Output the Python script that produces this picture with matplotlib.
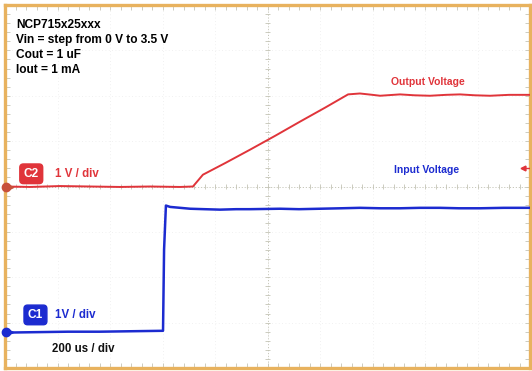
import numpy as np
import matplotlib.pyplot as plt

# scope settings
time_per_div = 200.0   # us / div
volt_per_div = 1.0     # V / div
c2_offset = 4.0        # divisions from bottom
c1_offset = 0.8

# C2 = output voltage (time in us, volts)
out_t = [0, 95, 210, 324, 438, 552, 667, 716, 754, 840, 933, 1030, 1124, 1220, 1307,
         1352, 1400, 1429, 1505, 1560, 1619, 1680, 1733, 1790, 1848, 1920, 2000]
out_v = [0.0, -0.01, 0.01, 0.0, -0.01, 0.0, -0.01, 0.0, 0.26, 0.52, 0.81, 1.12, 1.43,
         1.74, 2.03, 2.05, 2.02, 2.0, 2.03, 2.01, 2.0, 2.02, 2.03, 2.01, 2.0, 2.02, 2.02]

# C1 = input voltage
in_t = [0, 120, 240, 360, 480, 602, 606, 613, 629, 705, 760, 819, 880, 933, 1048,
        1120, 1200, 1280, 1352, 1430, 1505, 1580, 1657, 1730, 1810, 1900, 2000]
in_v = [-0.02, -0.01, 0.0, 0.0, 0.01, 0.02, 1.81, 2.78, 2.75, 2.71, 2.70, 2.69, 2.70,
        2.70, 2.71, 2.70, 2.71, 2.72, 2.73, 2.72, 2.72, 2.73, 2.73, 2.72, 2.72, 2.73, 2.73]

header = ["NCP715x25xxx", "Vin = step from 0 V to 3.5 V", "Cout = 1 uF", "Iout = 1 mA"]

red = '#e0343a'
blue = '#1c2bd0'
frame_col = '#e8b25e'
grid_col = '#c4c4b6'

fig = plt.figure(figsize=(5.32, 3.71), dpi=100)
ax = fig.add_axes([5 / 532, 3 / 371, 525 / 532, 363 / 371])
ax.set_xlim(0, 10)
ax.set_ylim(0, 8)
ax.set_xticks([])
ax.set_yticks([])
for s in ax.spines.values():
    s.set_color(frame_col)
    s.set_linewidth(2.4)

# faint division grid
for i in range(1, 10):
    ax.axvline(i, color='#ececec', lw=0.6, ls=(0, (1, 3)))
for j in range(1, 8):
    ax.axhline(j, color='#ececec', lw=0.6, ls=(0, (1, 3)))

# center crosshair with minor ticks
ax.axhline(4, color=grid_col, lw=0.7, ls=(0, (1, 2)))
ax.axvline(5, color=grid_col, lw=0.7, ls=(0, (1, 2)))
minor_x = np.arange(0, 10.01, 0.2)
minor_y = np.arange(0, 8.01, 0.2)
ax.vlines(minor_x, 4 - 0.05, 4 + 0.05, color=grid_col, lw=0.6)
ax.hlines(minor_y, 5 - 0.05, 5 + 0.05, color=grid_col, lw=0.6)
# border ticks
ax.vlines(minor_x, 0, 0.1, color=grid_col, lw=0.6)
ax.vlines(minor_x, 7.9, 8, color=grid_col, lw=0.6)
ax.hlines(minor_y, 0, 0.1, color=grid_col, lw=0.6)
ax.hlines(minor_y, 9.9, 10, color=grid_col, lw=0.6)

# traces
ox = np.array(out_t) / time_per_div
oy = c2_offset + np.array(out_v) / volt_per_div
ix = np.array(in_t) / time_per_div
iy = c1_offset + np.array(in_v) / volt_per_div
ax.plot(ox, oy, color=red, lw=1.4, zorder=5)
ax.plot(ix, iy, color=blue, lw=1.8, zorder=5)

# ground markers
ax.plot(0.02, c2_offset, 'o', color='#c8503a', ms=6, clip_on=False, zorder=6)
ax.plot(0.12, c2_offset, '>', color='#c8503a', ms=3, clip_on=False, zorder=6)
ax.plot(0.02, c1_offset, 'o', color=blue, ms=6, clip_on=False, zorder=6)
ax.plot(0.12, c1_offset, '>', color=blue, ms=3, clip_on=False, zorder=6)
# trigger level marker
ax.plot([9.86, 10], [4.41, 4.41], color=red, lw=1.0, zorder=6)
ax.plot(9.86, 4.41, '<', color=red, ms=3.5, zorder=6)

font = 'Liberation Sans'
for k, line in enumerate(header):
    ax.text(0.021, (368 - 25 - 15 * k) / 363, line, transform=ax.transAxes,
            fontsize=8.6, fontweight='bold', family=font, va='center', ha='left')

ax.text(0.5, c2_offset + 0.28, 'C2', color='white', fontsize=8.6, fontweight='bold',
        family=font, ha='center', va='center',
        bbox=dict(boxstyle='round,pad=0.32,rounding_size=0.3', fc=red, ec=red))
ax.text(0.95, c2_offset + 0.28, '1 V / div', color=red, fontsize=8.3, fontweight='bold',
        family=font, ha='left', va='center')
ax.text(0.58, c1_offset + 0.37, 'C1', color='white', fontsize=8.6, fontweight='bold',
        family=font, ha='center', va='center',
        bbox=dict(boxstyle='round,pad=0.32,rounding_size=0.3', fc=blue, ec=blue))
ax.text(0.95, c1_offset + 0.37, '1V / div', color=blue, fontsize=8.3, fontweight='bold',
        family=font, ha='left', va='center')
ax.text(0.9, (368 - 349) / 45.375, '200 us / div', color='#111111', fontsize=8.3,
        fontweight='bold', family=font, ha='left', va='center')

ax.text(7.35, (368 - 82) / 45.375, 'Output Voltage', color=red, fontsize=7.5,
        fontweight='bold', family=font, ha='left', va='center')
ax.text(7.4, (368 - 170) / 45.375, 'Input Voltage', color=blue, fontsize=7.5,
        fontweight='bold', family=font, ha='left', va='center')

fig.savefig('out.png', dpi=100, facecolor='white')
